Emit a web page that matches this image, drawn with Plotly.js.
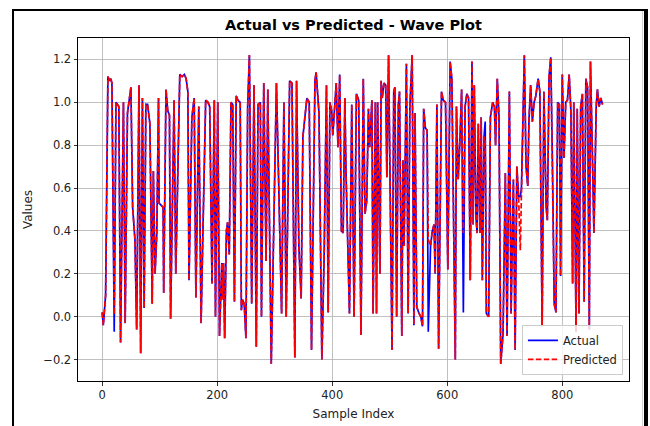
<!DOCTYPE html>
<html>
<head>
<meta charset="utf-8">
<script src="https://cdn.plot.ly/plotly-3.0.1.min.js"></script>
<style>
html,body{margin:0;padding:0;background:#fff;}
#wrap{position:relative;width:650px;height:426px;overflow:hidden;}
#chart{width:650px;height:426px;}
#frame{position:absolute;left:12px;top:9px;width:636px;height:440px;border-left:2.5px solid #000;border-top:2px solid #000;border-right:4px solid #000;box-sizing:border-box;pointer-events:none;}
#inner{position:absolute;left:642px;top:11px;width:1px;height:420px;background:#cfcfcf;pointer-events:none;}
</style>
</head>
<body>
<div id="wrap"><div id="chart"></div><div id="frame"></div><div id="inner"></div></div>
<script>
const sampleIndex = [0,2,6,10,13,15,17,21,24,27,29,32,37,40,44,50,53,57,60,64,67,70,73,76,79,83,87,89,92,95,98,99,102,106,107,111,114,117,119,125,128,135,139,143,146,149,151,156,160,163,168,172,175,180,184,187,191,195,197,201,204,208,209,211,213,216,218,221,224,227,230,233,236,240,242,244,247,250,253,256,260,264,268,271,275,277,281,285,288,294,303,308,312,316,320,326,330,335,338,342,346,349,356,360,364,370,372,377,382,386,390,393,396,399,401,407,410,413,416,419,422,424,430,434,438,442,446,450,454,457,460,463,465,469,471,475,477,479,483,485,487,490,493,495,498,504,507,509,512,515,517,521,523,525,529,532,535,539,542,544,547,551,554,557,559,562,565,567,571,574,577,579,582,585,590,593,597,601,605,608,610,614,616,619,622,625,628,631,634,637,640,643,645,647,650,652,654,657,659,661,664,666,668,672,675,679,682,684,687,690,693,697,701,704,708,711,715,718,721,724,727,729,734,737,740,742,745,748,751,754,758,761,765,768,772,774,777,780,783,786,789,792,795,797,800,803,806,809,812,815,818,820,824,826,829,832,835,838,841,844,847,849,853,855,859,861,864,867,870];

const actual = [0.02,-0.04,0.10,1.12,1.10,1.11,1.09,-0.07,1.00,0.99,0.98,-0.12,1.00,-0.03,0.95,1.07,0.51,0.36,-0.06,1.08,-0.17,1.02,0.04,0.99,0.99,0.90,0.06,0.68,0.20,0.39,1.02,0.53,0.52,0.51,0.11,1.06,0.96,0.94,-0.01,1.01,0.20,1.13,1.12,1.13,1.11,1.05,0.17,0.93,1.02,0.09,0.98,-0.03,0.37,1.01,1.00,0.98,0.155,1.01,0.00,1.00,-0.09,0.25,0.08,0.25,-0.10,0.40,0.44,0.29,1.00,0.99,0.07,1.03,1.01,1.00,0.03,0.08,0.06,-0.10,0.98,1.22,0.06,1.08,-0.14,0.99,1.00,0.00,1.09,0.26,1.06,-0.22,1.09,0.48,0.015,1.00,0.00,1.10,1.09,-0.19,1.10,0.33,0.085,0.84,1.02,1.00,-0.155,1.10,1.14,0.95,-0.20,0.29,1.08,0.02,1.00,0.96,0.845,1.09,0.79,1.13,0.40,0.39,1.02,0.67,0.015,0.99,0.00,1.04,1.01,-0.085,1.11,0.48,0.54,0.97,0.79,1.01,0.015,1.00,0.015,1.00,0.20,1.10,1.02,1.09,1.08,0.65,1.22,-0.155,1.05,1.07,0.00,0.99,1.05,-0.09,0.73,0.33,1.18,0.015,0.98,1.22,-0.04,0.95,0.045,0.015,0.00,-0.045,0.97,0.88,0.87,-0.07,0.33,0.40,0.43,0.20,0.99,-0.15,1.05,1.01,1.00,0.22,1.19,1.11,0.67,-0.20,0.98,0.64,0.82,1.06,0.02,0.98,1.04,1.02,0.17,1.19,0.43,1.08,0.46,0.39,0.90,0.39,0.93,0.17,0.84,0.91,0.015,0.00,0.93,1.00,0.98,0.80,1.11,0.93,-0.22,-0.08,0.67,-0.09,1.05,0.015,0.64,-0.155,0.70,0.56,0.56,0.60,1.22,0.70,0.61,0.91,1.08,0.91,1.00,1.03,1.11,1.05,-0.045,1.05,0.51,0.45,1.12,1.21,0.70,0.06,0.02,1.00,0.99,0.19,1.13,0.74,1.00,1.01,1.13,0.96,0.155,1.00,-0.07,0.97,0.015,0.98,1.04,0.07,1.11,1.07,-0.06,1.19,0.67,0.39,0.98,1.06,0.98,1.02,0.99];

const predicted = [0.02,-0.04,0.10,1.12,1.10,1.11,1.09,0.01,1.00,0.99,0.98,-0.12,1.00,-0.03,0.95,1.07,0.51,0.36,-0.06,1.08,-0.17,1.02,0.04,0.99,0.99,0.90,0.06,0.68,0.20,0.39,1.02,0.53,0.52,0.51,0.11,1.06,0.96,0.94,-0.01,1.01,0.20,1.13,1.12,1.13,1.11,1.05,0.17,0.93,1.02,0.09,0.98,-0.03,0.37,1.01,1.00,0.98,0.155,1.01,0.00,1.00,-0.09,0.25,0.08,0.25,-0.10,0.40,0.44,0.29,1.00,0.99,0.07,1.03,1.01,1.00,0.03,0.08,0.06,-0.10,0.98,1.22,0.06,1.08,-0.14,0.99,1.00,0.00,1.09,0.26,1.06,-0.22,1.09,0.48,0.015,1.00,0.00,1.10,1.09,-0.19,1.10,0.33,0.085,0.84,1.02,1.00,-0.155,1.10,1.14,0.95,-0.20,0.29,1.08,0.02,1.00,0.96,0.845,1.09,0.79,1.13,0.40,0.39,1.02,0.67,0.015,0.99,0.00,1.04,1.01,-0.085,1.11,0.48,0.54,0.97,0.79,1.01,0.015,1.00,0.015,1.00,0.20,1.10,1.02,1.09,1.08,0.65,1.22,-0.155,1.05,1.07,0.00,0.99,1.05,-0.09,0.73,0.33,1.18,0.015,0.98,1.22,-0.04,0.95,0.045,0.015,0.00,-0.045,0.97,0.88,0.87,0.36,0.33,0.40,0.43,0.20,0.99,-0.15,1.05,1.01,1.00,0.22,1.19,1.11,0.67,-0.20,0.98,0.64,0.82,1.06,0.39,0.98,1.04,1.02,0.17,1.19,0.43,1.08,0.46,0.39,0.90,0.39,0.93,0.17,0.84,0.82,0.015,0.00,0.93,1.00,0.98,0.80,1.11,0.93,-0.22,-0.08,0.67,-0.09,1.05,0.015,0.64,-0.155,0.70,0.56,0.31,0.60,1.22,0.70,0.61,0.91,1.08,0.91,1.00,1.03,1.11,1.05,-0.045,1.05,0.51,0.45,1.12,1.21,0.70,0.06,0.02,1.00,0.99,0.19,1.13,0.74,1.00,1.01,1.13,0.96,0.155,1.00,-0.07,0.97,0.015,0.98,1.04,0.07,1.11,1.07,-0.06,1.19,0.67,0.39,0.98,1.06,0.98,1.02,0.99];

const xTicks = [0,200,400,600,800];
const yTicks = [-0.2,0.0,0.2,0.4,0.6,0.8,1.0,1.2];
const yTickText = ['\u22120.2','0.0','0.2','0.4','0.6','0.8','1.0','1.2'];

const FONT = 'DejaVu Sans, sans-serif';

const traces = [
  {x: sampleIndex, y: actual, type: 'scatter', mode: 'lines', name: 'Actual',
   line: {color: '#0000ff', width: 1.7}},
  {x: sampleIndex, y: predicted, type: 'scatter', mode: 'lines', name: 'Predicted',
   line: {color: '#ff0000', width: 1.7, dash: '5.5px,2.4px'}}
];

const layout = {
  width: 650, height: 426,
  margin: {l: 78, r: 21, t: 38, b: 45, pad: 0},
  paper_bgcolor: '#ffffff', plot_bgcolor: '#ffffff',
  font: {family: FONT, size: 11.5, color: '#222'},
  title: {text: 'Actual vs Predicted - Wave Plot', x: 0.5, xref: 'paper', y: 1 - 25/426, yref: 'container', yanchor: 'middle',
          font: {family: FONT, size: 14.5, weight: 'bold', color: '#000'}},
  xaxis: {range: [-42, 916], tickvals: xTicks, ticks: 'outside', ticklen: 3.5, tickwidth: 0.8, tickcolor: '#000',
          showgrid: true, gridcolor: '#b0b0b0', gridwidth: 0.8, zeroline: false,
          showline: true, mirror: true, linecolor: '#000', linewidth: 1,
          tickfont: {family: FONT, size: 11.5, color: '#222'},
          title: {text: 'Sample Index', font: {family: FONT, size: 12, color: '#222'}, standoff: 8}},
  yaxis: {range: [-0.3, 1.3], tickvals: yTicks, ticktext: yTickText, ticks: 'outside', ticklen: 3.5, tickwidth: 0.8, tickcolor: '#000',
          showgrid: true, gridcolor: '#b0b0b0', gridwidth: 0.8, zeroline: false,
          showline: true, mirror: true, linecolor: '#000', linewidth: 1,
          tickfont: {family: FONT, size: 11.5, color: '#222'},
          title: {text: 'Values', font: {family: FONT, size: 12, color: '#222'}, standoff: 8}},
  showlegend: true,
  legend: {x: 0.989, xanchor: 'right', y: 0.018, yanchor: 'bottom', bgcolor: 'rgba(255,255,255,0.8)',
           bordercolor: '#cccccc', borderwidth: 1, font: {family: FONT, size: 11.5, color: '#222'},
           tracegroupgap: 0, itemwidth: 30}
};

Plotly.newPlot('chart', traces, layout, {displayModeBar: false, staticPlot: true});
</script>
</body>
</html>
